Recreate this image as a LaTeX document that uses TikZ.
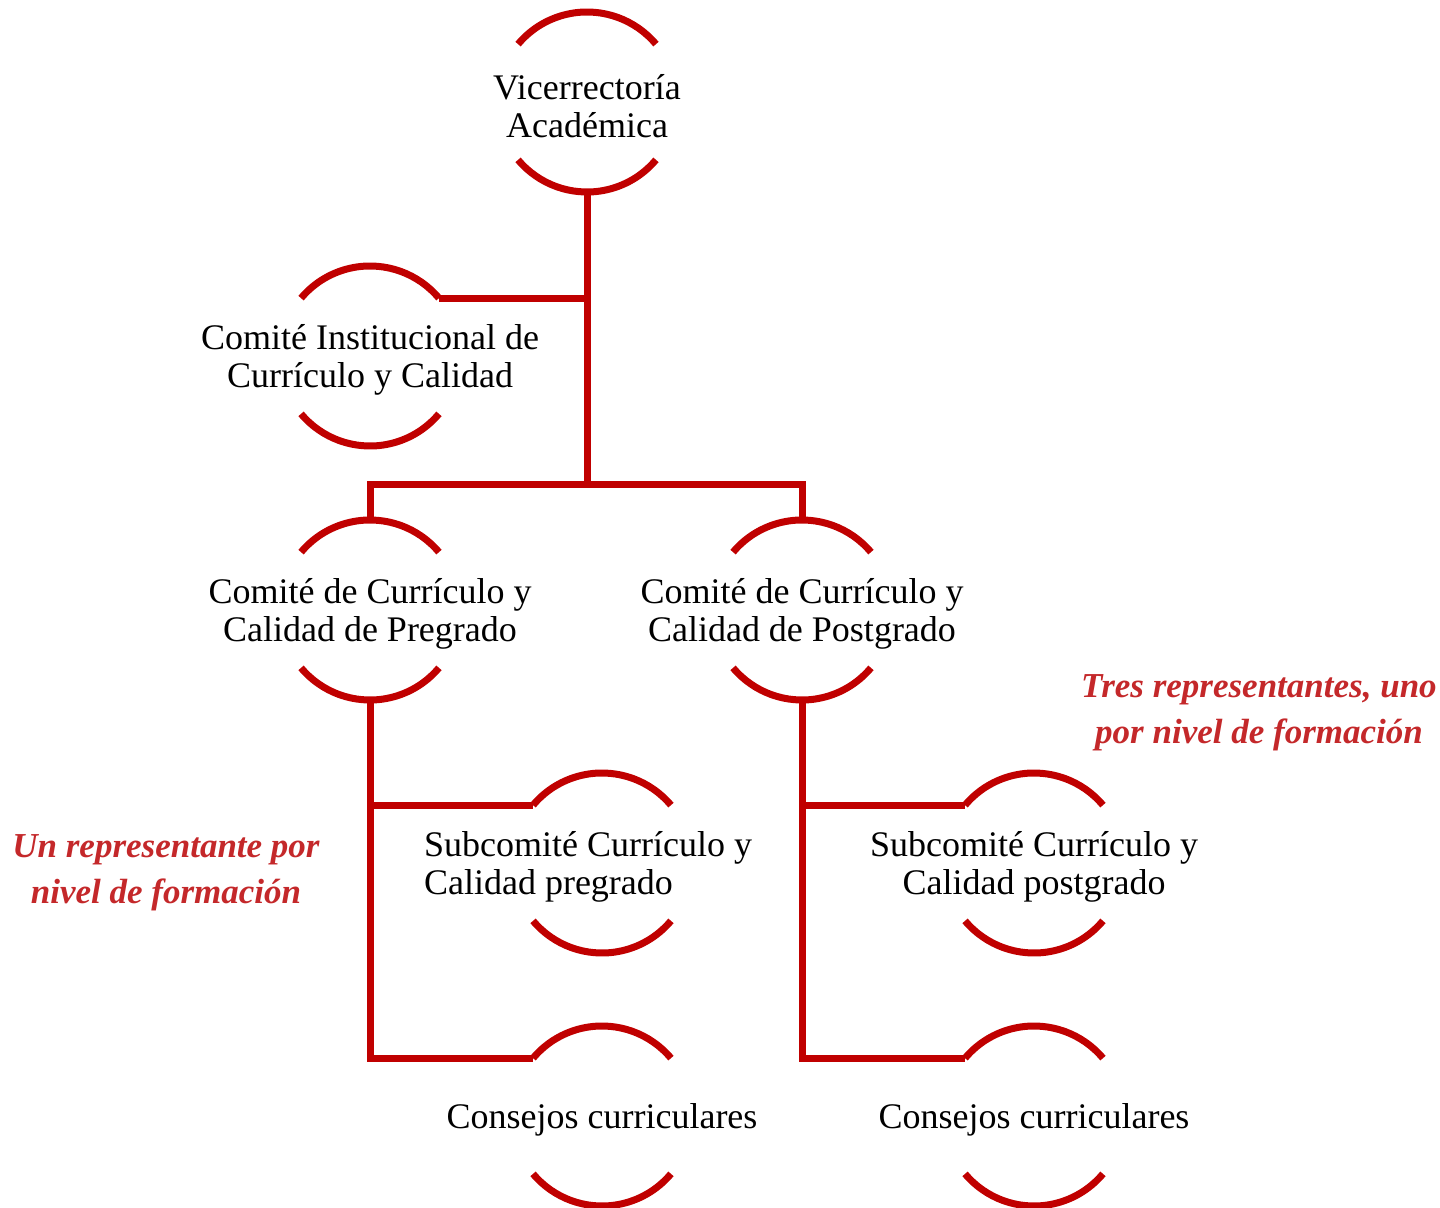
\documentclass[tikz,border=0pt]{standalone}
\usepackage{fontspec}
\setmainfont{Liberation Serif}
\usepackage{tikz}
\usetikzlibrary{calc}
\definecolor{darkred}{RGB}{192,0,0}
\definecolor{notered}{RGB}{196,40,42}
\tikzset{
    ring/.style={draw=darkred, line width=3.5pt},
    link/.style={draw=darkred, line width=3.5pt, line join=miter},
    unit/.style={align=center, font=\fontsize{18}{19}\selectfont, inner sep=0pt},
    note/.style={align=center, text=notered, font=\fontsize{17.5}{22.8}\selectfont\bfseries\itshape}
}
\newcommand{\halfrings}[2]{%
  \draw[ring] ([shift={(40:45pt)}]#2) arc[start angle=40, end angle=140, radius=45pt];
  \draw[ring] ([shift={(220:45pt)}]#2) arc[start angle=220, end angle=320, radius=45pt];
  \coordinate (#1-t) at ([shift={(90:45pt)}]#2);
  \coordinate (#1-b) at ([shift={(270:45pt)}]#2);
  \coordinate (#1-ne) at ([shift={(40:45pt)}]#2);
  \coordinate (#1-nw) at ([shift={(140:45pt)}]#2);
}

\begin{document}
\begin{tikzpicture}[x=0.5pt,y=-0.5pt]
\useasboundingbox (0,0) rectangle (1440,1208);
\node[unit] (vr) at (587,106) {Vicerrectoría\\Académica};
\node[unit] (ci) at (370,360) {Comité Institucional de\\Currículo y Calidad};
\node[unit] (pre) at (370,614) {Comité de Currículo y\\Calidad de Pregrado};
\node[unit] (post) at (802,614) {Comité de Currículo y\\Calidad de Postgrado};
\node[unit,align=left] (subpre) at (588,867) {Subcomité Currículo y\\Calidad pregrado};
\node[unit] (subpost) at (1034,867) {Subcomité Currículo y\\Calidad postgrado};
\node[unit] (conpre) at (602,1120) {Consejos curriculares};
\node[unit] (conpost) at (1034,1120) {Consejos curriculares};
\halfrings{vr}{587,102}
\halfrings{ci}{370,356}
\halfrings{pre}{370,610}
\halfrings{post}{802,610}
\halfrings{subpre}{602,863}
\halfrings{subpost}{1034,863}
\halfrings{conpre}{602,1116}
\halfrings{conpost}{1034,1116}
\coordinate (split) at (587,484);
\draw[link] (vr-b) -- (split);
\draw[link] (ci-ne) -- (ci-ne -| vr-b);
\draw[link] (pre-t) -- (pre-t |- split) -- (post-t |- split) -- (post-t);
\draw[link] (pre-b) |- (subpre-nw);
\draw[link] (pre-b) |- (conpre-nw);
\draw[link] (post-b) |- (subpost-nw);
\draw[link] (post-b) |- (conpost-nw);
\node[note] (uno) at (1259,713) {Tres representantes, uno\\por nivel de formación};
\node[note] (por) at (166,873) {Un representante por\\nivel de formación};
\end{tikzpicture}
\end{document}
